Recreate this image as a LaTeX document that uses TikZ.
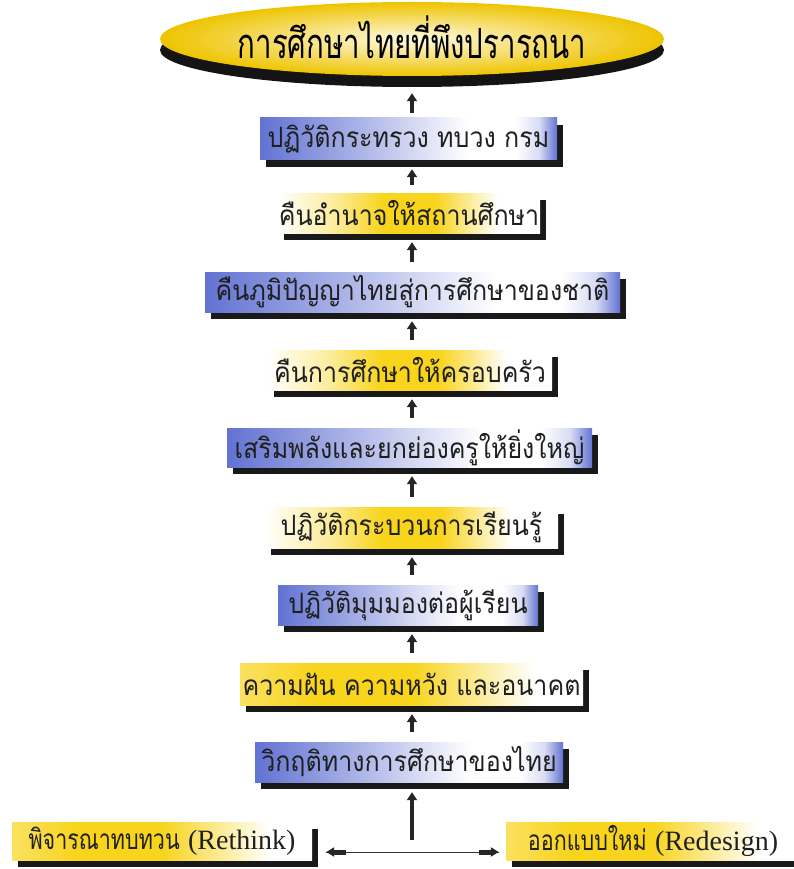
\documentclass[tikz,border=0pt]{standalone}
\usepackage{fontspec}
\usepackage{graphicx}
\usetikzlibrary{shapes.geometric,shadows,arrows.meta,calc}
\newfontfamily\thaifont[Script=Thai]{Loma}
\newfontfamily\enfont{Liberation Serif}
\newcommand\vst[1]{\scalebox{1}[1.12]{#1}}
\newcommand\bth[1]{\scalebox{0.86}[1.12]{#1}}
\newcommand\ben[1]{{\enfont\fontsize{28}{32}\selectfont #1}}
\definecolor{bl}{RGB}{98,114,210}
\colorlet{blmid}{bl!50!white}
\colorlet{bllight}{bl!25!white}
\definecolor{ylw}{RGB}{248,212,28}
\colorlet{ylwpale}{ylw!45!white}
\colorlet{ylwsoft}{ylw!70!white}
\definecolor{ygold}{RGB}{238,196,0}
\colorlet{ycenter}{ylw!12!white}
\colorlet{txt}{black!88}
\pgfdeclarehorizontalshading{bshade}{100bp}{color(0bp)=(bl); color(25bp)=(bl); color(43bp)=(blmid); color(60bp)=(white); color(68bp)=(white); color(72bp)=(bllight); color(75bp)=(bl); color(100bp)=(bl)}
\pgfdeclarehorizontalshading{yglow}{100bp}{color(0bp)=(white); color(25bp)=(white); color(36bp)=(ylwpale); color(45bp)=(ylw); color(55bp)=(ylw); color(67bp)=(white); color(100bp)=(white)}
\pgfdeclarehorizontalshading{yleft}{100bp}{color(0bp)=(ylwsoft); color(25bp)=(ylwsoft); color(36bp)=(ylw); color(50bp)=(ylw); color(68bp)=(white); color(100bp)=(white)}
\tikzset{
  box/.style={rectangle, inner sep=0pt, text=txt,
    font=\thaifont\fontsize{25}{30}\selectfont,
    drop shadow={shadow xshift=6pt,shadow yshift=-7pt,opacity=1,fill=black!90}},
  bbox/.style={box, shading=bshade},
  ybox/.style={box, shading=yglow},
  ylbox/.style={box, shading=yleft},
  titlebox/.style={ellipse, inner sep=0pt, inner color=ycenter, outer color=ygold,
    font=\thaifont\fontsize{32}{38}\selectfont, text=black,
    drop shadow={shadow xshift=0pt,shadow yshift=-11pt,opacity=1,fill=black!92}},
  conn/.style={draw=black!85, line width=4pt, -{Triangle[width=10pt,length=8pt]}},
  hline/.style={draw=black!80, line width=0.8pt},
  stub/.style={draw=black!85, line width=5pt, -{Triangle[width=9pt,length=8pt]}}
}
\begin{document}
\begin{tikzpicture}[x=1pt,y=-1pt]
\useasboundingbox (0,0) rectangle (793,869);
\coordinate (ax) at (412,0);

\node[titlebox, minimum width=504pt, minimum height=74pt] (t) at (412,39) {\raisebox{-20pt}[0pt][0pt]{\scalebox{0.92}[1.3]{การศึกษาไทยที่พึงปรารถนา}}};

\node[bbox, minimum width=297pt, minimum height=42pt] (b1) at (408.5,139) {\vst{ปฏิวัติกระทรวง ทบวง กรม}};
\node[ybox, minimum width=262pt, minimum height=40pt] (b2) at (409,213) {\vst{คืนอำนาจให้สถานศึกษา}};
\node[bbox, minimum width=415pt, minimum height=40pt] (b3) at (412.5,292) {\vst{คืนภูมิปัญญาไทยสู่การศึกษาของชาติ}};
\node[ybox, minimum width=284pt, minimum height=40pt] (b4) at (410,370) {\vst{คืนการศึกษาให้ครอบครัว}};
\node[bbox, minimum width=365pt, minimum height=39pt] (b5) at (409.5,447.5) {\vst{เสริมพลังและยกย่องครูให้ยิ่งใหญ่}};
\node[ybox, minimum width=293pt, minimum height=41pt] (b6) at (411.5,527.5) {\vst{ปฏิวัติกระบวนการเรียนรู้}};
\node[bbox, minimum width=260pt, minimum height=40pt] (b7) at (408,605) {\vst{ปฏิวัติมุมมองต่อผู้เรียน}};
\node[ylbox, minimum width=343pt, minimum height=42pt] (b8) at (411.5,684) {\vst{ความฝัน ความหวัง และอนาคต}};
\node[bbox, minimum width=308pt, minimum height=40pt] (b9) at (409,762) {\vst{วิกฤติทางการศึกษาของไทย}};
\node[ylbox, minimum width=300pt, minimum height=38pt] (b10) at (162,841) {\bth{พิจารณาทบทวน} \ben{(Rethink)}};
\node[ylbox, minimum width=294pt, minimum height=38pt] (b11) at (653,841) {\bth{ออกแบบใหม่} \ben{(Redesign)}\hspace{16pt}};

\draw[conn] ($(b1.north -| ax)+(0,-5)$) -- ($(t.south -| ax)+(0,17)$);
\draw[conn] ($(b2.north -| ax)+(0,-8)$) -- ($(b1.south -| ax)+(0,9)$);
\draw[conn] ($(b3.north -| ax)+(0,-10)$) -- ($(b2.south -| ax)+(0,9)$);
\draw[conn] ($(b4.north -| ax)+(0,-10)$) -- ($(b3.south -| ax)+(0,9)$);
\draw[conn] ($(b5.north -| ax)+(0,-10)$) -- ($(b4.south -| ax)+(0,9)$);
\draw[conn] ($(b6.north -| ax)+(0,-10)$) -- ($(b5.south -| ax)+(0,9)$);
\draw[conn] ($(b7.north -| ax)+(0,-10)$) -- ($(b6.south -| ax)+(0,9)$);
\draw[conn] ($(b8.north -| ax)+(0,-10)$) -- ($(b7.south -| ax)+(0,9)$);
\draw[conn] ($(b9.north -| ax)+(0,-10)$) -- ($(b8.south -| ax)+(0,9)$);

\coordinate (split) at (412,852);
\coordinate (lt) at ($(b10.east)+(14,0)$);
\coordinate (rt) at ($(b11.west)+(-7,0)$);
\draw[conn] ($(split)+(0,-12)$) -- ($(b9.south -| ax)+(0,10)$);
\draw[hline] (split) -- (lt |- split);
\draw[hline] (split) -- (rt |- split);
\draw[stub] ($(lt |- split)+(20,0)$) -- (lt |- split);
\draw[stub] ($(rt |- split)+(-20,0)$) -- (rt |- split);
\end{tikzpicture}
\end{document}
